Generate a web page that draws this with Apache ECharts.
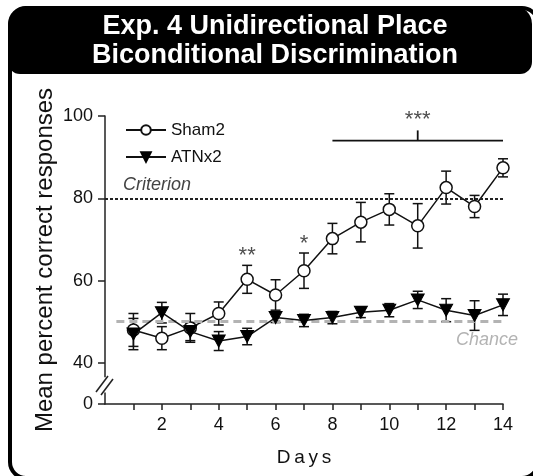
<!DOCTYPE html>
<html>
<head>
<meta charset="utf-8">
<script src="https://cdn.jsdelivr.net/npm/echarts@6/dist/echarts.min.js"></script>
<style>html,body{margin:0;padding:0;background:#fff}#c{width:533px;height:476px}</style>
</head>
<body>
<div id="c"></div>
<script>
// ---- data ----
const days = [1,2,3,4,5,6,7,8,9,10,11,12,13,14];
const shamMean = [48.0,46.0,48.5,52.0,60.3,56.5,62.4,70.2,74.2,77.3,73.3,82.6,78.0,87.4];
const shamSem  = [4.0,2.8,3.5,2.8,3.4,3.7,4.3,3.7,4.8,3.8,5.4,4.0,2.7,2.2];
const atnMean  = [47.0,52.2,47.6,45.3,46.4,51.0,50.3,51.0,52.3,52.8,55.3,52.8,51.5,54.1];
const atnSem   = [3.8,2.5,2.2,2.3,2.0,1.2,1.5,1.5,1.3,1.6,2.1,2.8,3.6,2.6];
const seriesNames = ['Sham2','ATNx2'];
const yTickValues = [30,40,60,80,100];      // 30 is drawn as the broken-axis "0"
const yTickLabels = ['0','40','60','80','100'];
const xTickValues = [1,2,3,4,5,6,7,8,9,10,11,12,13,14];
const xLabelValues = [2,4,6,8,10,12,14];
const criterionLevel = 80;
const chanceLevel = 50;
const sigDays = [5,7,11];
const sigLevels = [66.0,69.0,99.0];
const sigTexts = ['**','*','***'];
const bracketDays = [8,14];
const bracketLevel = 94;
const bracketTickDay = 11;
const bracketTickTop = 96.5;

const chart = echarts.init(document.getElementById('c'), null, {renderer:'canvas'});
const tickFont = '"Liberation Sans Narrow","Arial Narrow","Liberation Sans",Arial,sans-serif';
const font = '"Liberation Sans",Arial,sans-serif';

function errBar(mean, sem){
  return {
    type:'custom', silent:true, z:3,
    data: days.map((d,i)=>[d, mean[i], sem[i]]),
    renderItem(params, api){
      const x = api.value(0), m = api.value(1), e = api.value(2);
      const t = api.coord([x, m+e]), b = api.coord([x, m-e]);
      const hw = 5;
      const st = {stroke:'#111', lineWidth:1.5};
      return {type:'group', children:[
        {type:'line', shape:{x1:t[0],y1:t[1],x2:b[0],y2:b[1]}, style:st},
        {type:'line', shape:{x1:t[0]-hw,y1:t[1],x2:t[0]+hw,y2:t[1]}, style:st},
        {type:'line', shape:{x1:b[0]-hw,y1:b[1],x2:b[0]+hw,y2:b[1]}, style:st}
      ]};
    }
  };
}

const option = {
  backgroundColor:'#fff',
  animation:false,
  grid:{left:105, right:30, top:116, bottom:72, containLabel:false},
  legend:{
    data:[{name:seriesNames[0]},{name:seriesNames[1]}],
    orient:'vertical', left:120, top:115,
    itemWidth:40, itemHeight:12, itemGap:7,
    textStyle:{fontFamily:font, fontSize:17, color:'#111', lineHeight:20}
  },
  xAxis:{
    type:'value', min:0, max:14,
    name:'D\u2009a\u2009y\u2009s', nameLocation:'middle', nameGap:44, nameMoveOverlap:false,
    nameTextStyle:{fontFamily:font, fontSize:19, color:'#111'},
    axisLine:{lineStyle:{color:'#222', width:1.5}},
    axisTick:{show:true, inside:false, length:6, customValues:xTickValues, lineStyle:{color:'#222', width:1.5}},
    axisLabel:{customValues:xLabelValues, margin:12, fontFamily:tickFont, fontSize:18, color:'#111'},
    splitLine:{show:false}
  },
  yAxis:{
    type:'value', min:30, max:100,
    name:'Mean percent correct responses', nameLocation:'middle', nameGap:48, nameRotate:90,
    nameMoveOverlap:false,
    nameTextStyle:{fontFamily:font, fontSize:24, color:'#111'},
    axisLine:{show:true, lineStyle:{color:'#222', width:1.5}},
    axisTick:{show:true, length:7, customValues:yTickValues, lineStyle:{color:'#222', width:1.5}},
    axisLabel:{customValues:yTickValues, margin:12, fontFamily:tickFont, fontSize:18, color:'#111',
      formatter:v=>yTickLabels[yTickValues.indexOf(v)]},
    splitLine:{show:false}
  },
  series:[
    {
      type:'line', name:'__ref', silent:true, data:[], z:1,
      markLine:{
        silent:true, symbol:'none', animation:false,
        data:[
          [{coord:[0,criterionLevel], lineStyle:{color:'#222', width:2.2, type:[3,2]},
             label:{show:true, position:'insideStartTop', formatter:'Criterion', distance:[18,4],
               fontFamily:font, fontSize:18, fontStyle:'italic', color:'#444'}},
           {coord:[14,criterionLevel]}],
          [{coord:[0.4,chanceLevel], lineStyle:{color:'#b3b3b3', width:3, type:[8,5]}, label:{show:false}},
           {coord:[14,chanceLevel]}]
        ]
      }
    },
    Object.assign(errBar(shamMean, shamSem), {name:'errSham'}),
    Object.assign(errBar(atnMean, atnSem), {name:'errAtn'}),
    {
      type:'line', name:seriesNames[0], z:4,
      data: days.map((d,i)=>[d, shamMean[i]]),
      symbol:'circle', symbolSize:12,
      lineStyle:{color:'#111', width:1.5},
      itemStyle:{color:'#fff', borderColor:'#111', borderWidth:1.5}
    },
    {
      type:'line', name:seriesNames[1], z:5,
      data: days.map((d,i)=>[d, atnMean[i]]),
      symbol:'triangle', symbolRotate:180, symbolSize:[13,12],
      lineStyle:{color:'#111', width:1.5},
      itemStyle:{color:'#000', borderColor:'#000', borderWidth:1}
    },
    {
      type:'scatter', name:'sig', silent:true, symbolSize:0,
      data: sigDays.map((d,i)=>[d, sigLevels[i], sigTexts[i]]),
      label:{show:true, position:'inside', formatter:p=>p.value[2],
        fontFamily:font, fontSize:22, color:'#222'}
    },
    {
      type:'line', name:'bracket', silent:true, symbol:'none',
      data: bracketDays.map(d=>[d, bracketLevel]),
      lineStyle:{color:'#111', width:1.8}
    },
    {
      type:'line', name:'bracketTick', silent:true, symbol:'none',
      data: [[bracketTickDay, bracketLevel],[bracketTickDay, bracketTickTop]],
      lineStyle:{color:'#111', width:1.8}
    }
  ]
};
chart.setOption(option);

// decorations positioned via the chart's own scales
const chancePt = chart.convertToPixel({gridIndex:0}, [14, chanceLevel]);
const brkTop = chart.convertToPixel({gridIndex:0}, [0, 36.5]);
const brkBot = chart.convertToPixel({gridIndex:0}, [0, 32.8]);
const brkMid = chart.convertToPixel({gridIndex:0}, [0, 34.6]);
chart.setOption({
  graphic:[
    {type:'rect', z:-100, silent:true, shape:{x:10, y:8, width:528, height:470, r:16},
      style:{fill:'#fff', stroke:'#000', lineWidth:4}},
    {type:'rect', z:-99, silent:true, shape:{x:8, y:6, width:524, height:68, r:[20,18,12,12]},
      style:{fill:'#000'}},
    {type:'text', z:100, silent:true, x:275, y:41,
      style:{text:'Exp. 4 Unidirectional Place\nBiconditional Discrimination', fill:'#fff',
        font:'bold 27px "Liberation Sans", Arial, sans-serif', align:'center', verticalAlign:'middle', lineHeight:29}},
    {type:'text', z:100, silent:true, x:chancePt[0]+15, y:chancePt[1]+18,
      style:{text:'Chance', fill:'#b3b3b3', font:'italic 18px "Liberation Sans", Arial, sans-serif', align:'right', verticalAlign:'middle'}},
    {type:'rect', z:100, silent:true, shape:{x:brkTop[0]-3, y:brkTop[1], width:6, height:brkBot[1]-brkTop[1]},
      style:{fill:'#fff'}},
    {type:'line', z:101, silent:true, shape:{x1:brkMid[0]-9, y1:brkMid[1]+7, x2:brkMid[0]+3, y2:brkMid[1]-9},
      style:{stroke:'#222', lineWidth:1.5}},
    {type:'line', z:101, silent:true, shape:{x1:brkMid[0]-4, y1:brkMid[1]+10, x2:brkMid[0]+8, y2:brkMid[1]-6},
      style:{stroke:'#222', lineWidth:1.5}}
  ]
});
</script>
</body>
</html>
